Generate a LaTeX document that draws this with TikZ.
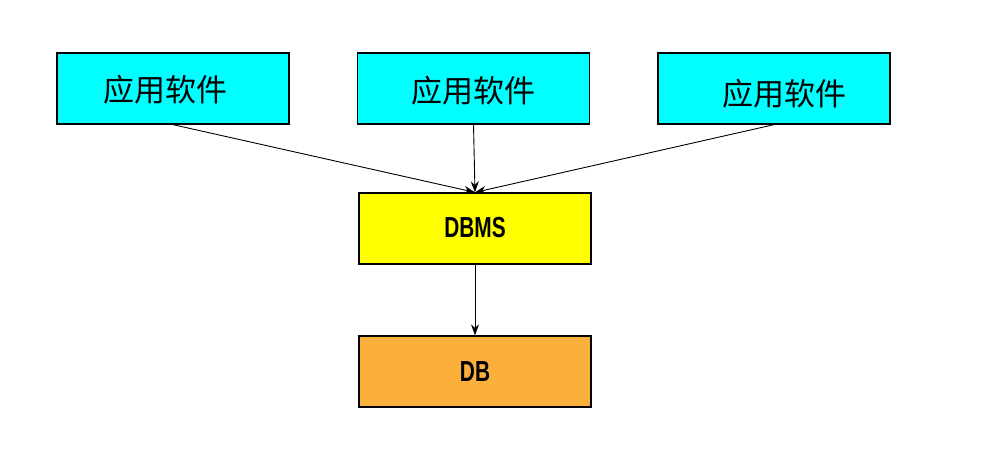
\documentclass[tikz,border=0pt]{standalone}
\usepackage{fontspec}
\setmainfont{Liberation Sans}
\newfontfamily\cjk{Noto Sans CJK SC}
\usetikzlibrary{arrows.meta}
\definecolor{appcyan}{HTML}{00FFFF}
\definecolor{dbmsyellow}{HTML}{FFFF00}
\definecolor{dborange}{HTML}{FBB03B}
\begin{document}
\begin{tikzpicture}[x=1pt,y=-1pt,
  boxstyle/.style={draw=black,line width=1.3pt,minimum width=232pt,minimum height=71pt,inner sep=0pt},
  cjktext/.style={font=\cjk\fontsize{31}{31}\selectfont,inner sep=0pt},
  latintext/.style={font=\bfseries\fontsize{29}{29}\selectfont,inner sep=0pt},
  conn/.style={line width=0.9pt,-{Stealth[length=11pt,width=8pt]}}]
\useasboundingbox (0,0) rectangle (1001,473);
\node[boxstyle,fill=appcyan] (a1) at (173,88.5) {};
\node[boxstyle,fill=appcyan] (a2) at (473.5,88.5) {};
\node[boxstyle,fill=appcyan] (a3) at (774,88.5) {};
\node[boxstyle,fill=dbmsyellow] (dbms) at (475,228.5) {};
\node[boxstyle,fill=dborange] (db) at (475,371.5) {};
\node[cjktext] (t1) at (165,90) {应用软件};
\node[cjktext] (t2) at (473,91) {应用软件};
\node[cjktext] (t3) at (784,94) {应用软件};
\node[latintext] (t4) at (475,228) {\scalebox{0.72}[1]{DBMS}};
\node[latintext] (t5) at (475,372) {\scalebox{0.72}[1]{DB}};
\draw[conn] (a1.south) -- (dbms.north);
\draw[conn] (a2.south) -- (dbms.north);
\draw[conn] (a3.south) -- (dbms.north);
\draw[conn] (dbms.south) -- (db.north);
\end{tikzpicture}
\end{document}
